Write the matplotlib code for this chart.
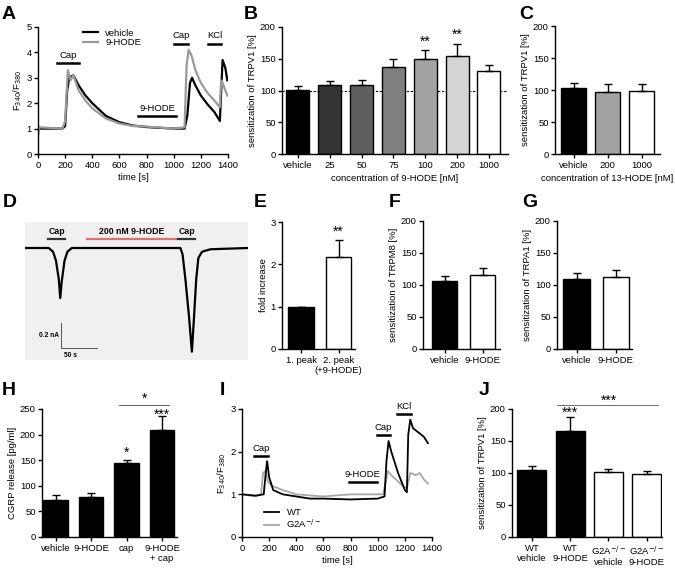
import matplotlib.pyplot as plt
import numpy as np

plt.rcParams['font.family'] = ['Liberation Sans', 'DejaVu Sans']
plt.rcParams['font.size'] = 6.8
plt.rcParams['axes.linewidth'] = 1.0
plt.rcParams['xtick.major.size'] = 3
plt.rcParams['ytick.major.size'] = 3
plt.rcParams['xtick.major.width'] = 1.0
plt.rcParams['ytick.major.width'] = 1.0
plt.rcParams['xtick.major.pad'] = 2
plt.rcParams['ytick.major.pad'] = 1.5

# ---- A: calcium traces, vehicle vs 9-HODE
a_time_veh = [0, 180, 200, 215, 230, 260, 300, 350, 400, 500, 600, 700, 800, 900, 1000,
              1080, 1100, 1120, 1135, 1160, 1200, 1250, 1300, 1340, 1350, 1360, 1380, 1395]
a_veh = [1.0, 1.0, 1.1, 2.5, 3.0, 3.1, 2.7, 2.3, 2.0, 1.5, 1.25, 1.12, 1.06, 1.03, 1.0,
         1.0, 1.5, 2.8, 3.0, 2.7, 2.3, 1.95, 1.65, 1.3, 2.5, 3.7, 3.4, 2.9]
a_time_hode = [0, 10, 180, 200, 220, 240, 260, 300, 350, 400, 500, 600, 700, 800, 1000,
               1080, 1095, 1110, 1130, 1160, 1200, 1250, 1300, 1340, 1350, 1360, 1395]
a_hode = [0.7, 1.05, 1.0, 1.3, 3.3, 2.9, 3.1, 2.5, 2.1, 1.8, 1.4, 1.2, 1.1, 1.08, 1.0,
          1.05, 3.5, 4.1, 3.9, 3.3, 2.8, 2.4, 2.1, 1.85, 2.9, 2.8, 2.3]
a_bars = [("Cap", 140, 300, 3.6), ("9-HODE", 740, 1020, 1.5), ("Cap", 1000, 1105, 4.35), ("KCl", 1250, 1350, 4.35)]

# ---- B: 9-HODE concentrations
b_labels = ["vehicle", "25", "50", "75", "100", "200", "1000"]
b_values = [100.5, 108, 109, 137, 149, 154, 131]
b_errors = [6.5, 7, 7, 12, 14, 19, 9]
b_colors = ["#000000", "#333333", "#5f5f5f", "#808080", "#a3a3a3", "#d4d4d4", "#ffffff"]

# ---- C: 13-HODE
c_labels = ["vehicle", "200", "1000"]
c_values = [102.6, 97.4, 98.4]
c_errors = [7.8, 12, 10.5]
c_colors = ["#000000", "#a3a3a3", "#ffffff"]

# ---- D: patch clamp trace (s, nA)
d_time = [-3, 30, 36, 40, 44, 46, 48, 52, 56, 62, 213, 216, 220, 225, 229, 232, 235, 238, 243, 255, 307]
d_current = [0, 0, -0.03, -0.1, -0.25, -0.4, -0.27, -0.1, -0.03, 0, 0, -0.05, -0.25, -0.55,
             -0.83, -0.55, -0.25, -0.08, -0.03, -0.01, 0]

# ---- E: fold increase
e_labels = ["1. peak", "2. peak\n(+9-HODE)"]
e_values = [1.0, 2.17]
e_errors = [0, 0.41]

# ---- F / G
fg_labels = ["vehicle", "9-HODE"]
f_values = [106.7, 115.6]
f_errors = [8, 10.5]
g_values = [110, 113]
g_errors = [8, 10]

# ---- H: CGRP release
h_labels = ["vehicle", "9-HODE", "cap", "9-HODE\n+ cap"]
h_values = [72.6, 78.5, 145, 209]
h_errors = [10.4, 6.5, 5.5, 26.5]

# ---- I: WT vs G2A-/-
i_time_wt = [0, 100, 160, 175, 185, 200, 230, 300, 400, 500, 600, 800, 1000, 1050, 1065, 1080,
             1100, 1150, 1200, 1215, 1225, 1240, 1260, 1300, 1340, 1370]
i_wt = [1.0, 0.97, 1.0, 1.5, 1.78, 1.4, 1.1, 1.0, 0.95, 0.9, 0.9, 0.88, 0.9, 0.95, 1.8, 2.25,
        2.0, 1.5, 1.1, 1.05, 2.4, 2.75, 2.55, 2.45, 2.35, 2.2]
i_time_ko = [0, 100, 140, 155, 175, 190, 220, 300, 400, 600, 800, 1000, 1040, 1060, 1075,
             1100, 1150, 1200, 1220, 1240, 1280, 1310, 1340, 1370]
i_ko = [1.0, 0.95, 1.0, 1.5, 1.55, 1.3, 1.2, 1.1, 1.0, 0.95, 1.0, 1.0, 1.0, 1.3, 1.55,
        1.45, 1.3, 1.15, 1.2, 1.5, 1.45, 1.5, 1.35, 1.25]
i_bars = [("Cap", 90, 190, 1.91), ("9-HODE", 785, 995, 1.3), ("Cap", 995, 1090, 2.38), ("KCl", 1145, 1245, 2.88)]

# ---- J
j_labels = ["WT\nvehicle", "WT\n9-HODE", "G2A$^{-/-}$\nvehicle", "G2A$^{-/-}$\n9-HODE"]
j_values = [104, 165, 102, 99]
j_errors = [7.5, 22, 5, 4]
j_colors = ["#000000", "#000000", "#ffffff", "#ffffff"]

W, H = 675, 568
fig = plt.figure(figsize=(W / 100, H / 100), dpi=100)


def add_ax(l, t, r, b):
    return fig.add_axes([l / W, 1 - b / H, (r - l) / W, (b - t) / H])


def letter(x, y, s):
    fig.text(x / W, 1 - y / H, s, fontsize=14, fontweight='bold', va='top', ha='left')


def style(ax):
    ax.spines['top'].set_visible(False)
    ax.spines['right'].set_visible(False)
    ax.tick_params(direction='out')


def bars(ax, values, errors, colors, width):
    x = np.arange(len(values))
    ax.bar(x, values, width=width, color=colors, edgecolor='black', linewidth=1.0, zorder=2)
    ax.errorbar(x, values, yerr=[np.zeros(len(errors)), errors], fmt='none', ecolor='black',
                elinewidth=1.0, capsize=3, capthick=1.0, zorder=3)
    return x


# A
ax = add_ax(38, 27, 228, 154)
style(ax)
ax.plot(a_time_veh, a_veh, color='black', lw=1.6, label='vehicle')
ax.plot(a_time_hode, a_hode, color='#9a9a9a', lw=1.6, label='9-HODE')
for name, t0, t1, yb in a_bars:
    ax.plot([t0, t1], [yb, yb], color='black', lw=1.8)
    ax.text((t0 + t1) / 2, yb + 0.12, name, ha='center', va='bottom')
ax.set_xlim(0, 1400)
ax.set_ylim(0, 5)
ax.set_xticks(range(0, 1401, 200))
ax.set_yticks(range(0, 6))
ax.set_xlabel('time [s]', labelpad=2)
ax.set_ylabel('F$_{340}$/F$_{380}$', labelpad=2)
ax.legend(loc='upper left', bbox_to_anchor=(0.2, 1.04), frameon=False, handlelength=1.6,
          handletextpad=0.8, labelspacing=0.1, borderpad=0.2)
letter(2, 6, 'A')

# B
ax = add_ax(282, 27, 508, 154)
style(ax)
x = bars(ax, b_values, b_errors, b_colors, 0.72)
ax.axhline(100, color='black', lw=0.8, ls=(0, (2, 1.5)), zorder=1)
for i in (4, 5):
    ax.text(x[i], b_values[i] + b_errors[i] + 3, '**', ha='center', va='bottom', fontsize=10)
ax.set_xlim(-0.5, 6.6)
ax.set_ylim(0, 200)
ax.set_yticks(range(0, 201, 50))
ax.set_xticks(x)
ax.set_xticklabels(b_labels)
ax.set_xlabel('concentration of 9-HODE [nM]', labelpad=3)
ax.set_ylabel('sensitization of TRPV1 [%]', labelpad=2)
letter(244, 6, 'B')

# C
ax = add_ax(555, 26, 660, 154)
style(ax)
x = bars(ax, c_values, c_errors, c_colors, 0.72)
ax.set_xlim(-0.55, 2.54)
ax.set_ylim(0, 200)
ax.set_yticks(range(0, 201, 50))
ax.set_xticks(x)
ax.set_xticklabels(c_labels)
ax.set_xlabel('concentration of 13-HODE [nM]', labelpad=3)
ax.set_ylabel('sensitization of TRPV1 [%]', labelpad=2)
letter(519, 6, 'C')

# D
ax = add_ax(25, 222, 248, 360)
ax.set_facecolor('#f0f0f0')
for s in ax.spines.values():
    s.set_visible(False)
ax.set_xticks([])
ax.set_yticks([])
ax.plot(d_time, d_current, color='black', lw=1.6)
ax.set_xlim(-3, 307)
ax.set_ylim(-0.896, 0.208)
for t0, t1, c, name in [(29, 53, '#333333', 'Cap'), (83, 208, '#d9736f', '200 nM 9-HODE'),
                        (210, 233, '#333333', 'Cap')]:
    ax.plot([t0, t1], [0.072, 0.072], color=c, lw=1.6)
    ax.text((t0 + t1) / 2, 0.1, name, ha='center', va='bottom', fontsize=6.3, fontweight='bold')
ax.plot([47, 47, 97], [-0.6, -0.8, -0.8], color='#555555', lw=0.7)
ax.text(44, -0.7, '0.2 nA', ha='right', va='center', fontsize=4.8, fontweight='bold')
ax.text(60, -0.83, '50 s', ha='center', va='top', fontsize=4.8, fontweight='bold')
letter(3, 194, 'D')

# E
ax = add_ax(282, 222, 355, 349)
style(ax)
x = bars(ax, e_values, e_errors, ['#000000', '#ffffff'], 0.68)
ax.text(x[1], e_values[1] + e_errors[1] + 0.03, '**', ha='center', va='bottom', fontsize=10)
ax.set_xlim(-0.51, 1.44)
ax.set_ylim(0, 3)
ax.set_yticks(range(0, 4))
ax.set_xticks(x)
ax.set_xticklabels(e_labels)
ax.set_ylabel('fold increase', labelpad=2)
letter(254, 194, 'E')

# F
ax = add_ax(423, 221, 500, 349)
style(ax)
x = bars(ax, f_values, f_errors, ['#000000', '#ffffff'], 0.66)
ax.set_xlim(-0.57, 1.46)
ax.set_ylim(0, 200)
ax.set_yticks(range(0, 201, 50))
ax.set_xticks(x)
ax.set_xticklabels(fg_labels)
ax.set_ylabel('sensitization of TRPM8 [%]', labelpad=2)
letter(389, 194, 'F')

# G
ax = add_ax(557, 221, 632, 349)
style(ax)
x = bars(ax, g_values, g_errors, ['#000000', '#ffffff'], 0.67)
ax.set_xlim(-0.5, 1.42)
ax.set_ylim(0, 200)
ax.set_yticks(range(0, 201, 50))
ax.set_xticks(x)
ax.set_xticklabels(fg_labels)
ax.set_ylabel('sensitization of TRPA1 [%]', labelpad=2)
letter(522, 194, 'G')

# H
ax = add_ax(42, 409, 177, 537)
style(ax)
x = bars(ax, h_values, h_errors, ['#000000'] * 4, 0.69)
ax.text(x[2], h_values[2] + h_errors[2] + 1, '*', ha='center', va='bottom', fontsize=10)
ax.text(x[3], h_values[3] + h_errors[3] - 10, '***', ha='center', va='bottom', fontsize=10)
ax.plot([1.8, 3.2], [258, 258], color='#444444', lw=0.6, clip_on=False)
ax.text(2.5, 256, '*', ha='center', va='bottom', fontsize=10)
ax.set_xlim(-0.38, 3.42)
ax.set_ylim(0, 250)
ax.set_yticks(range(0, 251, 50))
ax.set_xticks(x)
ax.set_xticklabels(h_labels)
ax.set_ylabel('CGRP release [pg/ml]', labelpad=2)
letter(2, 382, 'H')

# I
ax = add_ax(242, 409, 432, 537)
style(ax)
ax.plot(i_time_ko, i_ko, color='#a8a8a8', lw=1.3, label='G2A$^{-/-}$')
ax.plot(i_time_wt, i_wt, color='black', lw=1.3, label='WT')
for name, t0, t1, yb in i_bars:
    ax.plot([t0, t1], [yb, yb], color='black', lw=1.8)
    ax.text((t0 + t1) / 2, yb + 0.07, name, ha='center', va='bottom')
ax.set_xlim(0, 1400)
ax.set_ylim(0, 3)
ax.set_xticks(range(0, 1401, 200))
ax.set_yticks(range(0, 4))
ax.set_xlabel('time [s]', labelpad=2)
ax.set_ylabel('F$_{340}$/F$_{380}$', labelpad=2)
hd, lb = ax.get_legend_handles_labels()
ax.legend(hd[::-1], lb[::-1], loc='lower left', bbox_to_anchor=(0.08, 0.0), frameon=False,
          handlelength=1.6, handletextpad=0.8, labelspacing=0.1, borderpad=0.2)
letter(220, 382, 'I')

# J
ax = add_ax(512, 409, 662, 537)
style(ax)
x = bars(ax, j_values, j_errors, j_colors, 0.76)
ax.text(x[1], j_values[1] + j_errors[1] - 4, '***', ha='center', va='bottom', fontsize=10)
ax.plot([0.65, 3.3], [206, 206], color='#555555', lw=0.6, clip_on=False)
ax.text(2.0, 202, '***', ha='center', va='bottom', fontsize=10)
ax.set_xlim(-0.52, 3.4)
ax.set_ylim(0, 200)
ax.set_yticks(range(0, 201, 50))
ax.set_xticks(x)
ax.set_xticklabels(j_labels)
ax.set_ylabel('sensitization of TRPV1 [%]', labelpad=2)
letter(479, 382, 'J')

fig.savefig('out.png', dpi=100)
